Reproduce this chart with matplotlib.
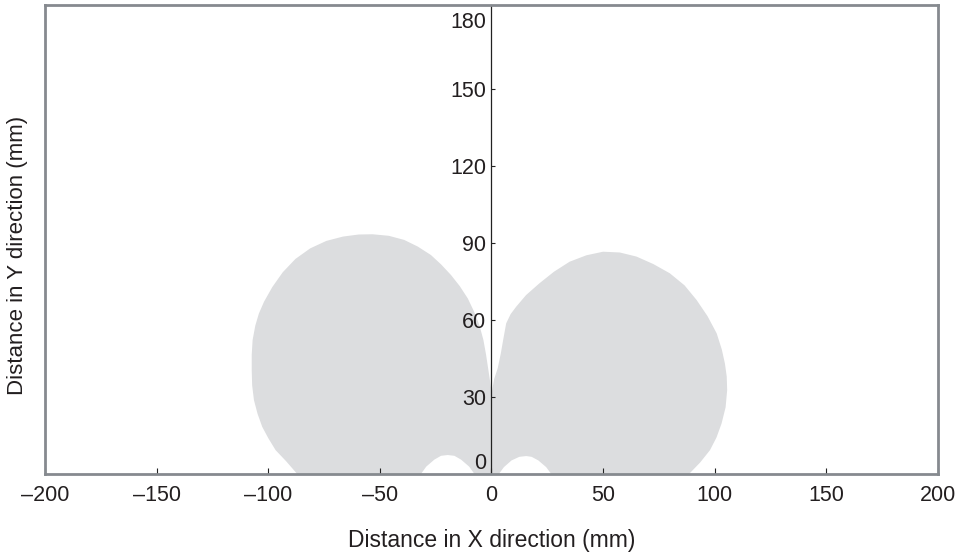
import matplotlib
matplotlib.use("Agg")
import matplotlib.pyplot as plt

plt.rcParams['font.family'] = ['Liberation Sans', 'DejaVu Sans']

# outline of the detection area (mm)
# left lobe: bottom-left, up the outside, over the top, down to the cusp at x=0
left_x = [-87, -92, -96.7, -100, -102.7, -104.8, -106.4, -107.2, -107.4, -107.4,
          -107.0, -105.8, -104.2, -101.9, -98.2, -93.5, -87.8, -81.2, -74, -66.5,
          -59.5, -53.3, -46, -39.1, -33, -27.1, -22.5, -18.1, -14.2, -10.6,
          -7.8, -5.4, -3.6, -2.4, -1.2, 0]
left_y = [0, 5, 9.3, 14, 18.4, 23.5, 28.8, 34.5, 40.5, 46.4,
          52.2, 57.8, 62.5, 67.1, 72.8, 78.6, 83.8, 87.9, 90.8, 92.5,
          93.3, 93.4, 92.8, 91.2, 88.6, 85.3, 81.6, 77.5, 73.2, 68.4,
          63.3, 58, 52.2, 46.4, 39.5, 32.5]
# right lobe: cusp, up the inside, over the top, down to the bottom-right
right_x = [0.3, 1.2, 2.8, 4.2, 5.3, 6.6, 8.6, 11.1, 15.5, 21.5, 28, 35,
           42.5, 50, 57.5, 65, 72.5, 79.9, 86.5, 91.9, 96.8, 100.9, 103.2,
           104.6, 105.4, 105.6, 104.9, 103.1, 100.8, 97.9, 93.5, 88.5]
right_y = [32.5, 37, 41.2, 47, 52.5, 58.7, 62.3, 65.2, 69.7, 74.3, 78.8, 82.7,
           85.2, 86.6, 86.3, 84.7, 81.8, 78.2, 73.5, 67.8, 61.5, 54.8, 48.5,
           43, 38, 32.7, 26, 19.7, 14.2, 9.3, 4.5, 0]
# white arches along the bottom edge, right to left
arch_r_x = [26.8, 24.5, 21.0, 18.0, 15.6, 12.5, 9.0, 5.6, 3.3]
arch_r_y = [0, 2.7, 5.3, 6.7, 7.0, 6.7, 5.3, 2.7, 0]
arch_l_x = [-7.6, -10.0, -13.6, -16.6, -19.6, -22.6, -25.6, -29.2, -31.6]
arch_l_y = [0, 2.9, 5.6, 7.1, 7.4, 7.1, 5.6, 2.9, 0]

xticks = [-200, -150, -100, -50, 0, 50, 100, 150, 200]
yticks = [0, 30, 60, 90, 120, 150, 180]

xs = left_x + right_x + arch_r_x + arch_l_x
ys = left_y + right_y + arch_r_y + arch_l_y

frame = '#868a8f'
txt = '#231f20'

fig = plt.figure(figsize=(9.58, 5.58), dpi=100)
ax = fig.add_axes([0.047, 0.1505, 0.932, 0.8405])
ax.fill(xs, ys, color='#dcdddf', lw=0)

ax.set_xlim(-200, 200)
ax.set_ylim(0, 182.7)

for s in ['top', 'right', 'bottom']:
    ax.spines[s].set_color(frame)
    ax.spines[s].set_linewidth(2)
ax.spines['left'].set_position(('data', 0))
ax.spines['left'].set_color('#222222')
ax.spines['left'].set_linewidth(0.9)
ax.plot([0, 0], [0, 1], transform=ax.transAxes, color=frame, lw=2, clip_on=False)

ax.set_xticks(xticks)
ax.set_xticklabels([f'{v}'.replace('-', '\u2013') for v in xticks])
ax.set_yticks(yticks)
ax.tick_params(axis='x', direction='in', length=4, width=0.8, color='#222222',
               pad=8, labelsize=15.5, labelcolor=txt)
ax.tick_params(axis='y', direction='in', length=3, width=0.8, color='#222222',
               pad=4, labelsize=15.5, labelcolor=txt)

yt = ax.yaxis.get_major_ticks()
yt[0].tick1line.set_visible(False)
yt[-1].tick1line.set_visible(False)
yt[0].label1.set_va('bottom')
yt[-1].label1.set_va('top')

fig.text(0.513, 0.032, 'Distance in X direction (mm)', ha='center', va='center',
         fontsize=16.5, color=txt)
fig.text(0.018, 0.543, 'Distance in Y direction (mm)', ha='center', va='center',
         rotation=90, fontsize=16, color=txt)

fig.savefig('out.png', dpi=100)
